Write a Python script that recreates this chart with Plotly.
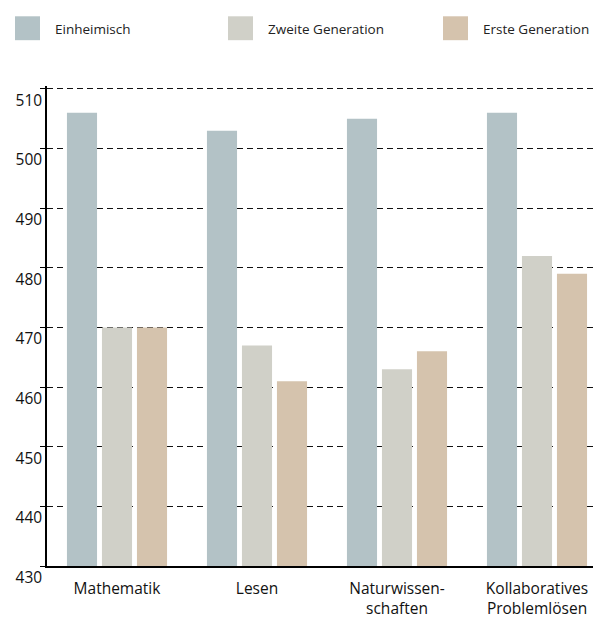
import plotly.graph_objects as go

categories = ["Mathematik", "Lesen", "Naturwissen-<br>schaften", "Kollaboratives<br>Problemlösen"]
series_names = ["Einheimisch", "Zweite Generation", "Erste Generation"]
einheimisch = [506, 503, 505, 506]
zweite_generation = [470, 467, 463, 482]
erste_generation = [470, 461, 466, 479]
y_ticks = [430, 440, 450, 460, 470, 480, 490, 500, 510]

colors = ["#b3c2c6", "#d0d0c8", "#d5c3ad"]
values = [einheimisch, zweite_generation, erste_generation]

FONT = "Open Sans"
L, R, T, B, W, H = 47, 0, 86, 51, 593, 619
PW, PH = W - L - R, H - T - B


def px(x):
    return (x - L) / PW


def py(y):
    return (H - B - y) / PH


fig = go.Figure()
for name, vals, col in zip(series_names, values, colors):
    fig.add_trace(go.Bar(
        x=categories, y=vals, name=name, marker=dict(color=col, line=dict(width=0)),
        showlegend=False,
    ))

# custom legend (large squares)
leg_x = [15, 228, 443]
for name, col, x0 in zip(series_names, colors, leg_x):
    fig.add_shape(type="rect", xref="paper", yref="paper",
                  x0=px(x0), x1=px(x0 + 25), y0=py(40), y1=py(16),
                  fillcolor=col, line=dict(width=0))
    fig.add_annotation(text=name, xref="paper", yref="paper",
                       x=px(x0 + 38), y=py(29),
                       xanchor="left", yanchor="middle", showarrow=False,
                       font=dict(family=FONT, size=13.5, color="#222"))

fig.update_layout(
    width=W, height=H,
    margin=dict(l=L, r=R, t=T, b=B),
    plot_bgcolor="white", paper_bgcolor="white",
    barmode="group", bargap=0.25, bargroupgap=0.14,
    font=dict(family=FONT, color="#111"),
)
fig.update_xaxes(
    range=[-0.5, 3.4], showgrid=False, ticks="",
    showline=True, linecolor="black", linewidth=2,
    ticklabelstandoff=7,
    tickfont=dict(size=15.5, color="#111"),
)
fig.update_yaxes(
    range=[430, 510.5], tickvals=y_ticks,
    showgrid=True, gridcolor="#111", gridwidth=1, griddash="6px,4px",
    zeroline=False, showline=True, linecolor="black", linewidth=1.5,
    ticks="outside", ticklen=5, tickcolor="black", tickwidth=1,
    ticklabelposition="outside bottom",
    tickfont=dict(size=15.5, color="#111"),
)
fig.write_html("out.html")
